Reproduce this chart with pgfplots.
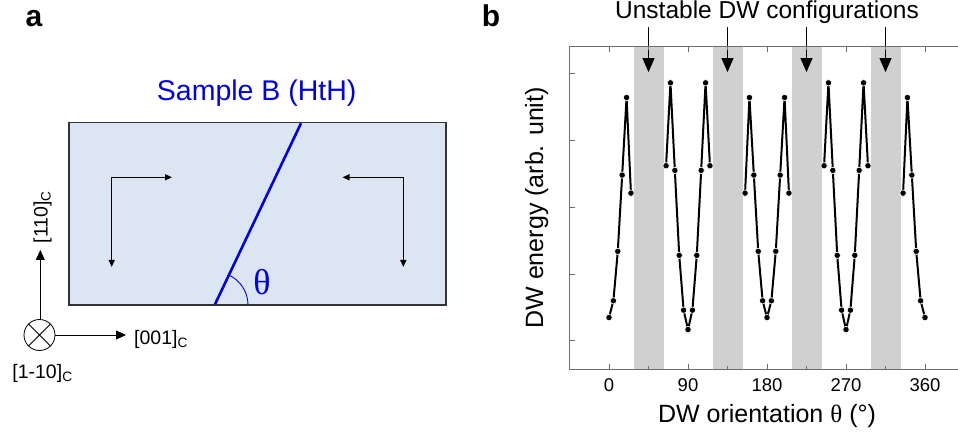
\documentclass[border=0pt]{standalone}
\usepackage{fontspec}
\setmainfont{Liberation Sans}
\newfontfamily\greekserif{Liberation Serif}
\usepackage{pgfplots}
\pgfplotsset{compat=1.18}
\usetikzlibrary{arrows.meta}
\definecolor{bandGrey}{HTML}{D0D0D0}
\definecolor{spineGrey}{HTML}{6E6E6E}
\definecolor{sampleBlue}{HTML}{0000E0}
\definecolor{boxFill}{HTML}{DCE6F2}
\newcommand{\fs}[1]{\fontsize{#1}{#1}\selectfont}
\pgfplotsset{
  dwline/.style={black, line width=2pt, mark=*, mark size=3.2pt,
                 mark options={solid, fill=black, draw=white, line width=0.6pt}},
  band/.style={fill=bandGrey, draw=none, forget plot},
}
\tikzset{
  inarrow/.style={line width=1.3pt, -{Triangle[length=7pt,width=6pt]}},
  csarrow/.style={line width=0.8pt, -{Triangle[length=10pt,width=9pt]}},
}

\begin{document}
\begin{tikzpicture}
% ---------- panel a: sample sketch ----------
\begin{scope}[x=1pt, y=1pt]
\node[font=\fs{30}\bfseries, anchor=base west, inner sep=0] at (25.5,404.3) {a};
\node[font=\fs{28.5}, text=sampleBlue] at (256.7,337.7) {Sample B (HtH)};
\draw[fill=boxFill, draw=black!80, line width=1.2pt] (69,126) rectangle (446,308.7);
\draw[sampleBlue, line width=2.6pt] (215,126.7) -- (301,307.7);
\draw[sampleBlue, line width=0.9pt] (248,126) arc[start angle=0, end angle=64.6, radius=33];
\node[font=\fs{36}\greekserif, text=sampleBlue] at (262,149.3) {θ};
% magnetisation arrows
\draw[inarrow] (111.7,253.7) -- (172,253.7);
\draw[inarrow] (111.7,253.7) -- (111.7,164);
\draw[inarrow] (403.3,253.7) -- (342.5,253.7);
\draw[inarrow] (403.3,253.7) -- (403.3,164);
% crystal axes
\draw[line width=0.8pt] (39.5,96) circle (15.5);
\draw[line width=0.8pt] (28.5,85) -- (50.5,107) (28.5,107) -- (50.5,85);
\draw[csarrow] (40.3,111.5) -- (40.3,181);
\draw[csarrow] (55,96) -- (126,96);
\node[font=\fs{19.5}, anchor=west, inner sep=0] at (134,92) {[001]\textsubscript{C}};
\node[font=\fs{19.5}, rotate=90, inner sep=0] at (42.5,214) {[110]\textsubscript{C}};
\node[font=\fs{19.5}, inner sep=0] at (42.5,58) {[1-10]\textsubscript{C}};
\node[font=\fs{30}\bfseries, anchor=base west, inner sep=0] at (481.7,404.3) {b};
\end{scope}

% ---------- panel b: DW energy ----------
\begin{axis}[
  at={(569.5pt,62pt)}, anchor=south west, scale only axis,
  width=395pt, height=322.3pt,
  xmin=-45, xmax=405, ymin=-0.42, ymax=4.4,
  xtick={0,90,...,360}, minor xtick={45,135,225,315},
  ytick={0,1,2,3,4}, yticklabels={},
  tick align=inside, major tick length=5pt, minor tick length=3pt,
  axis line style={spineGrey, line width=1pt},
  tick style={spineGrey, line width=1pt},
  tick label style={font=\fs{18.5}},
  /pgf/number format/assume math mode=true,
  xticklabel style={anchor=base, yshift=-22pt},
  xlabel={DW orientation {\greekserif θ} (°)},
  ylabel={DW energy (arb. unit)},
  label style={font=\fs{25}},
  x label style={at={(rel axis cs:0.5,0)}, anchor=base, yshift=-53pt},
  y label style={at={(rel axis cs:-0.083,0.5)}, anchor=center},
  axis on top, clip=false,
]
% unstable regions
\addplot[band] coordinates {(28,-0.42) (63,-0.42) (63,4.4) (28,4.4)};
\addplot[band] coordinates {(118,-0.42) (153,-0.42) (153,4.4) (118,4.4)};
\addplot[band] coordinates {(208,-0.42) (243,-0.42) (243,4.4) (208,4.4)};
\addplot[band] coordinates {(298,-0.42) (333,-0.42) (333,4.4) (298,4.4)};

% energy vs orientation, one branch per stable window
\addplot[dwline] coordinates {(0,0.35) (5,0.60) (10,1.34) (15,2.48) (20,3.64) (25,2.21)};
\addplot[dwline] coordinates {(65,2.62) (70,3.86) (75,2.55) (80,1.28) (85,0.46) (90,0.17)
  (95,0.46) (100,1.28) (105,2.55) (110,3.86) (115,2.62)};
\addplot[dwline] coordinates {(155,2.21) (160,3.64) (165,2.48) (170,1.34) (175,0.60) (180,0.35)
  (185,0.60) (190,1.34) (195,2.48) (200,3.64) (205,2.21)};
\addplot[dwline] coordinates {(245,2.62) (250,3.86) (255,2.55) (260,1.28) (265,0.46) (270,0.17)
  (275,0.46) (280,1.28) (285,2.55) (290,3.86) (295,2.62)};
\addplot[dwline] coordinates {(335,2.21) (340,3.64) (345,2.48) (350,1.34) (355,0.60) (360,0.35)};

\node[font=\fs{24.5}, anchor=base] at (axis cs:180,4.82) {Unstable DW configurations};
\pgfplotsinvokeforeach{45,135,225,315}{
  \draw[line width=1pt, -{Triangle[length=14pt,width=12pt]}] (axis cs:#1,4.69) -- (axis cs:#1,4.02);
}
\end{axis}
\pgfresetboundingbox
\useasboundingbox (0,0) rectangle (958pt,431pt);
\end{tikzpicture}
\end{document}
